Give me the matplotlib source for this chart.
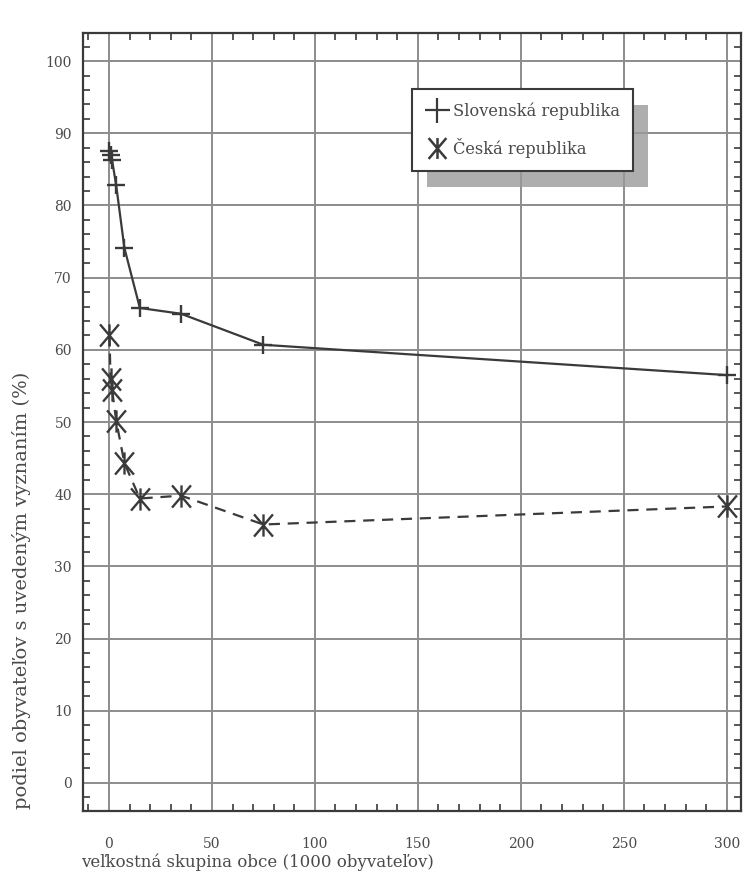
#!/bin/env python
# share of population with the given religion vs. municipality size group
# SK vs CZ, redrawn in matplotlib

import matplotlib
matplotlib.use('Agg')
import matplotlib.pyplot as plt
from matplotlib.lines import Line2D
from matplotlib.path import Path
from matplotlib.ticker import MultipleLocator
import matplotlib.patheffects as pe

# size group of municipality (1000 inhabitants), group midpoints
size_groups = [0.25, 0.75, 1.5, 3.5, 7.5, 15, 35, 75, 300]
slovak = [87.6, 87.0, 86.3, 82.8, 74.1, 65.8, 65.0, 60.7, 56.5]
czech = [62.1, 55.9, 54.5, 50.2, 44.3, 39.4, 39.8, 35.8, 38.3]

series_names = ['Slovenská republika', 'Česká republika']
x_ticks = [0, 50, 100, 150, 200, 250, 300]
y_ticks = [0, 10, 20, 30, 40, 50, 60, 70, 80, 90, 100]

# asterisk marker: vertical bar + X
star = Path([(0, -1), (0, 1), (-0.85, -1), (0.85, 1), (-0.85, 1), (0.85, -1)],
            [Path.MOVETO, Path.LINETO, Path.MOVETO, Path.LINETO, Path.MOVETO, Path.LINETO])

plt.rcParams['font.family'] = ['DejaVu Serif']
txt = '#4a4a4a'
ink = '#3a3a3a'

fig = plt.figure(figsize=(7.44, 8.75), dpi=100)
ax = fig.add_axes([0.1116, 0.0731, 0.884, 0.8892])

ax.plot(size_groups, slovak, color=ink, lw=1.6, marker='+', ms=13, mew=1.7)
ax.plot(size_groups, czech, color=ink, lw=1.6, ls=(0, (5, 3.5)), marker=star,
        ms=16, mew=1.7, mfc='none', mec=ink)

ax.set_xlim(-12.6, 306.8)
ax.set_ylim(-3.9, 103.9)
ax.set_xticks(x_ticks)
ax.set_yticks(y_ticks)
ax.xaxis.set_minor_locator(MultipleLocator(10))
ax.yaxis.set_minor_locator(MultipleLocator(2))
ax.tick_params(which='both', direction='in', top=True, right=True, colors=ink,
               labelcolor=txt, labelsize=10)
ax.tick_params(which='major', length=0)
ax.tick_params(axis='x', which='major', pad=19)
ax.tick_params(axis='y', which='major', pad=8)
ax.tick_params(which='minor', length=5, width=1.2)
ax.grid(True, which='major', color='#8c8c8c', lw=1.4)
ax.set_axisbelow(True)
for s in ax.spines.values():
    s.set_color(ink)
    s.set_linewidth(1.6)

ax.set_xlabel('veľkostná skupina obce (1000 obyvateľov)', color=txt, fontsize=12)
ax.xaxis.set_label_coords(0.266, -0.055)
ax.set_ylabel('podiel obyvateľov s uvedeným vyznaním (%)', color=txt, fontsize=14)
ax.yaxis.set_label_coords(-0.079, 0.284)

handles = [Line2D([], [], color=ink, ls='none', marker='+', ms=18, mew=1.6),
           Line2D([], [], color=ink, ls='none', marker=star, ms=15, mew=1.8)]
leg = ax.legend(handles, series_names, loc='upper right', bbox_to_anchor=(254.5, 96.1),
                bbox_transform=ax.transData, borderaxespad=0, fancybox=False,
                framealpha=1, edgecolor=ink, fontsize=11.7, handlelength=1.5,
                handletextpad=0.25, labelspacing=1.1, borderpad=0.8, labelcolor=txt)
leg.get_frame().set_linewidth(1.5)
leg.get_frame().set_path_effects([
    pe.SimplePatchShadow(offset=(11, -11.5), shadow_rgbFace='#9a9a9a', alpha=0.8),
    pe.Normal()])

fig.savefig('out.png', dpi=100, facecolor='white')
